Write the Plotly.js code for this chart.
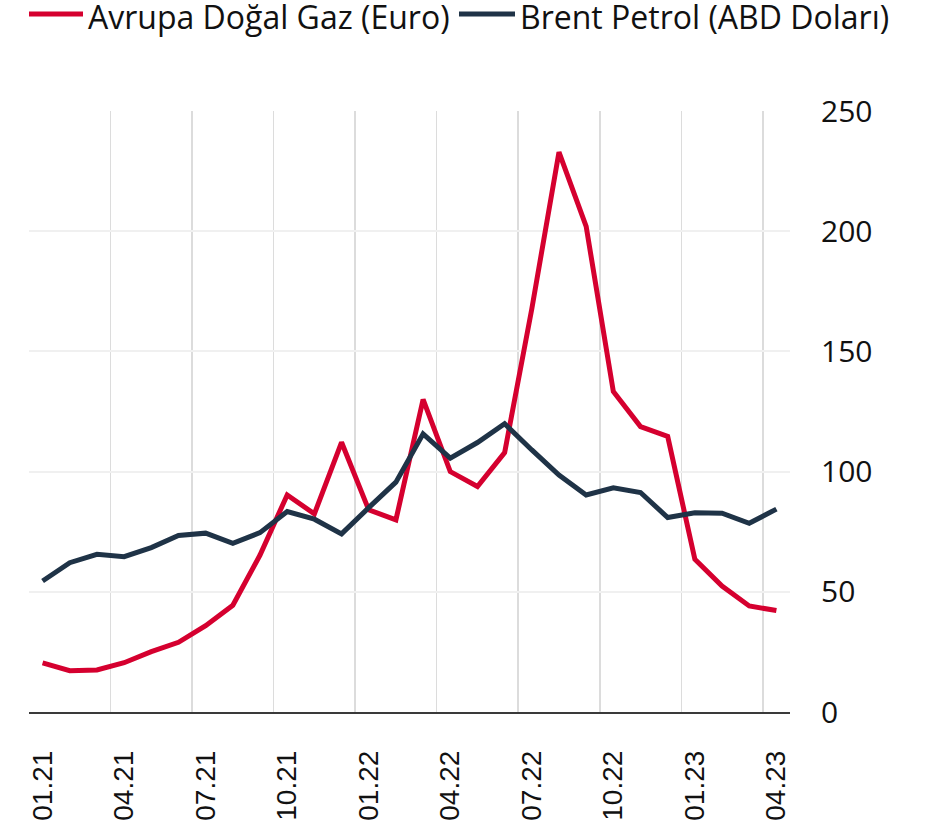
<!DOCTYPE html>
<html>
<head>
<meta charset="utf-8">
<script src="https://cdn.plot.ly/plotly-3.0.1.min.js"></script>
<style>
  html, body { margin: 0; padding: 0; background: #ffffff; }
  #chart { width: 930px; height: 822px; }
</style>
</head>
<body>
<div id="chart"></div>
<script>
// Months (category labels)
const months = [
  "01.21","02.21","03.21","04.21","05.21","06.21","07.21","08.21","09.21","10.21","11.21","12.21",
  "01.22","02.22","03.22","04.22","05.22","06.22","07.22","08.22","09.22","10.22","11.22","12.22",
  "01.23","02.23","03.23","04.23"
];
// Series names
const gasName = "Avrupa Doğal Gaz (Euro)";
const oilName = "Brent Petrol (ABD Doları)";
// European natural gas (Euro)
const gasValues = [
  20.4, 17.2, 17.5, 20.5, 25.1, 29.0, 35.9, 44.4, 65.3, 90.3, 82.4, 112.2,
  84.1, 79.9, 130.0, 100.0, 93.8, 107.9, 167.7, 232.9, 202.0, 133.3, 118.7, 114.6,
  63.5, 52.4, 44.1, 42.2
];
// Brent oil (USD)
const oilValues = [
  54.5, 62.1, 65.6, 64.6, 68.4, 73.4, 74.4, 70.2, 74.6, 83.4, 80.2, 74.1,
  85.0, 95.6, 115.7, 105.6, 112.1, 119.9, 109.0, 98.6, 90.3, 93.3, 91.3, 80.9,
  82.9, 82.7, 78.5, 84.4
];
// Tick labels shown on the x axis (every third month)
const xTickLabels = ["01.21","04.21","07.21","10.21","01.22","04.22","07.22","10.22","01.23","04.23"];
// Y axis ticks
const yTicks = [0, 50, 100, 150, 200, 250];

const RED = "#D5002F";
const NAVY = "#1F3347";

const traces = [
  { x: months, y: gasValues, name: gasName, type: "scatter", mode: "lines",
    line: { color: RED, width: 5, shape: "linear" }, showlegend: false, hoverinfo: "skip" },
  { x: months, y: oilValues, name: oilName, type: "scatter", mode: "lines",
    line: { color: NAVY, width: 5, shape: "linear" }, showlegend: false, hoverinfo: "skip" }
];

// manual legend geometry (paper coords)
const L = 29, W = 761, T = 111, H = 601;
const px = v => (v - L) / W;
const py = v => (T + H - v) / H;

const layout = {
  width: 930, height: 822,
  margin: { l: L, r: 930 - L - W, t: T, b: 822 - T - H, pad: 0 },
  paper_bgcolor: "#ffffff",
  plot_bgcolor: "#ffffff",
  showlegend: false,
  xaxis: {
    type: "category",
    range: [-0.5, 27.5],
    tickmode: "array",
    tickvals: xTickLabels,
    ticktext: xTickLabels,
    tickson: "boundaries",
    tickangle: -90,
    ticks: "",
    showgrid: true,
    gridcolor: "#dcdcdc",
    gridwidth: 1.5,
    showline: true,
    linecolor: "#3a3a3a",
    linewidth: 1.5,
    zeroline: false,
    ticklabelstandoff: 26,
    tickfont: { family: "Liberation Sans, Arial, sans-serif", size: 28, color: "#111111" }
  },
  yaxis: {
    side: "right",
    range: [0, 250],
    tickmode: "array",
    tickvals: yTicks,
    ticktext: yTicks.map(String),
    ticks: "",
    showgrid: true,
    gridcolor: "#f0f0f0",
    gridwidth: 2,
    zeroline: false,
    showline: false,
    ticklabelstandoff: 30,
    tickfont: { family: "Open Sans, sans-serif", size: 30, color: "#111111" }
  },
  shapes: [
    { type: "line", xref: "paper", yref: "paper", x0: px(29), x1: px(83), y0: py(14), y1: py(14),
      line: { color: RED, width: 5 } },
    { type: "line", xref: "paper", yref: "paper", x0: px(459), x1: px(515), y0: py(14), y1: py(14),
      line: { color: NAVY, width: 5 } }
  ],
  annotations: [
    { xref: "paper", yref: "paper", x: px(86), y: py(17), xanchor: "left", yanchor: "middle",
      text: gasName, showarrow: false,
      font: { family: "Open Sans, sans-serif", size: 32, color: "#111111" } },
    { xref: "paper", yref: "paper", x: px(518), y: py(17), xanchor: "left", yanchor: "middle",
      text: oilName, showarrow: false,
      font: { family: "Open Sans, sans-serif", size: 32, color: "#111111" } }
  ]
};

Plotly.newPlot("chart", traces, layout, { displayModeBar: false, staticPlot: true });
</script>
</body>
</html>
